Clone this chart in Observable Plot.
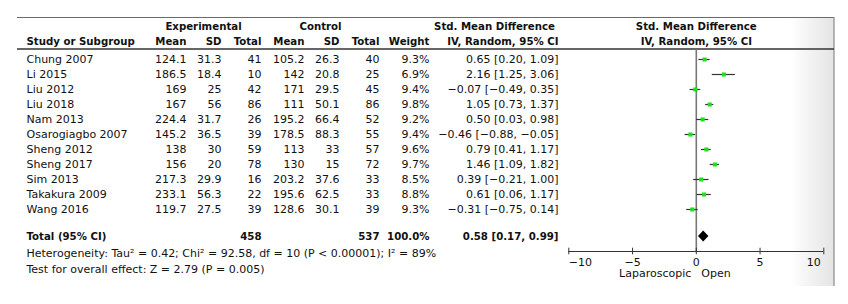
<!DOCTYPE html>
<html>
<head>
<meta charset="utf-8">
<script src="https://cdn.jsdelivr.net/npm/d3@7"></script>
<script src="https://cdn.jsdelivr.net/npm/@observablehq/plot@0.6"></script>
<style>
  html, body { margin: 0; padding: 0; background: #fff; }
  #chart svg { display: block; }
</style>
</head>
<body>
<div id="chart"></div>
<script>
// ---- data ----
const studies = ["Chung 2007","Li 2015","Liu 2012","Liu 2018","Nam 2013","Osarogiagbo 2007","Sheng 2012","Sheng 2017","Sim 2013","Takakura 2009","Wang 2016"];
const expMean = ["124.1","186.5","169","167","224.4","145.2","138","156","217.3","233.1","119.7"];
const expSD   = ["31.3","18.4","25","56","31.7","36.5","30","20","29.9","56.3","27.5"];
const expN    = [41,10,42,86,26,39,59,78,16,22,39];
const ctlMean = ["105.2","142","171","111","195.2","178.5","113","130","203.2","195.6","128.6"];
const ctlSD   = ["26.3","20.8","29.5","50.1","66.4","88.3","33","15","37.6","62.5","30.1"];
const ctlN    = [40,25,45,86,52,55,57,72,33,33,39];
const weight  = [9.3,6.9,9.4,9.8,9.2,9.4,9.6,9.7,8.5,8.8,9.3];
const smd     = [0.65,2.16,-0.07,1.05,0.50,-0.46,0.79,1.46,0.39,0.61,-0.31];
const ciLo    = [0.20,1.25,-0.49,0.73,0.03,-0.88,0.41,1.09,-0.21,0.06,-0.75];
const ciHi    = [1.09,3.06,0.35,1.37,0.98,-0.05,1.17,1.82,1.00,1.17,0.14];
const total   = {label: "Total (95% CI)", expN: 458, ctlN: 537, weight: "100.0%", smd: 0.58, lo: 0.17, hi: 0.99};
const hetText = "Heterogeneity: Tau² = 0.42; Chi² = 92.58, df = 10 (P < 0.00001); I² = 89%";
const testText = "Test for overall effect: Z = 2.79 (P = 0.005)";
const xTicks = [-10, -5, 0, 5, 10];
const xTickLabels = ["−10", "−5", "0", "5", "10"];
const favourLeft = "Laparoscopic", favourRight = "Open";

// ---- layout (row units) ----
const R = {h1: -2.2, h2: -1.2, hline: -0.67, total: 11.8, axis: 12.8, tickLab: 13.5, axTitle: 14.27, het: 12.93, test: 14.0};
const fmt = v => (v < 0 ? "−" : "") + Math.abs(v).toFixed(2);
const ciStr = (e, l, h) => `${fmt(e)} [${fmt(l)}, ${fmt(h)}]`;

const rows = studies.map((s, i) => ({
  i, study: s, em: expMean[i], es: expSD[i], en: expN[i], cm: ctlMean[i], cs: ctlSD[i], cn: ctlN[i],
  w: weight[i].toFixed(1) + "%", smd: smd[i], lo: ciLo[i], hi: ciHi[i], ci: ciStr(smd[i], ciLo[i], ciHi[i])
}));

const FONT = "'DejaVu Sans', sans-serif";
const BOLD = {fontWeight: "bold", fontSize: 10.2};
const col = (data, text, px, anchor, extra = {}) =>
  Plot.text(data, {frameAnchor: "left", dx: px, y: "i", text, textAnchor: anchor, fill: "#111", fontSize: 11, ...extra});
const lbl = (txt, yRow, px, anchor, extra = {}) =>
  Plot.text([txt], {frameAnchor: "left", dx: px, y: () => yRow, text: d => d, textAnchor: anchor, fill: "#111", fontSize: 11, ...extra});

// decorative box (frame, shadow)
const boxMark = (index, scales, values, dims) => {
  const g = d3.create("svg:g");
  const defs = g.append("defs");
  const grad = defs.append("linearGradient").attr("id", "shade").attr("x1", 0).attr("x2", 1).attr("y1", 0).attr("y2", 0);
  grad.append("stop").attr("offset", 0).attr("stop-color", "#fff");
  grad.append("stop").attr("offset", 1).attr("stop-color", "#e4e4e4");
  g.append("rect").attr("x", 790).attr("y", 17).attr("width", 44).attr("height", 269).attr("fill", "url(#shade)");
  g.append("line").attr("x1", 17).attr("x2", 834).attr("y1", 17.5).attr("y2", 17.5).attr("stroke", "#6a6a6a").attr("stroke-width", 1.2);
  g.append("line").attr("x1", 834).attr("x2", 834).attr("y1", 17).attr("y2", 286).attr("stroke", "#8a8a8a").attr("stroke-width", 1.2);
  g.append("line").attr("x1", 17).attr("x2", 834).attr("y1", 49).attr("y2", 49).attr("stroke", "#333").attr("stroke-width", 1.5);
  return g.node();
};

const totalRow = [{i: R.total}];
const diamond = [
  {x: total.lo, y1: R.total, y2: R.total},
  {x: total.smd, y1: R.total - 0.36, y2: R.total + 0.36},
  {x: total.hi, y1: R.total, y2: R.total}
];
const tickRows = xTicks.map((t, i) => ({t, label: xTickLabels[i], i}));
const last = xTicks.length - 1;

const chart = Plot.plot({
  width: 848, height: 304,
  marginTop: 0, marginRight: 0, marginBottom: 0, marginLeft: 0,
  style: {fontFamily: FONT, fontSize: "11px", background: "transparent"},
  x: {domain: [-10, 10], range: [568.3, 823.3], axis: null},
  y: {domain: [0, 10], range: [59, 209], axis: null},
  marks: [
    boxMark,
    // headers
    lbl("Experimental", R.h1, 203, "middle", BOLD),
    lbl("Control", R.h1, 320, "middle", BOLD),
    lbl("Std. Mean Difference", R.h1, 494, "middle", BOLD),
    Plot.text(["Std. Mean Difference"], {x: () => 0, y: () => R.h1, text: d => d, fill: "#111", ...BOLD}),
    lbl("Study or Subgroup", R.h2, 26, "start", BOLD),
    lbl("Mean", R.h2, 186, "end", BOLD),
    lbl("SD", R.h2, 221, "end", BOLD),
    lbl("Total", R.h2, 261, "end", BOLD),
    lbl("Mean", R.h2, 304, "end", BOLD),
    lbl("SD", R.h2, 339, "end", BOLD),
    lbl("Total", R.h2, 379, "end", BOLD),
    lbl("Weight", R.h2, 429, "end", BOLD),
    lbl("IV, Random, 95% CI", R.h2, 558, "end", BOLD),
    Plot.text(["IV, Random, 95% CI"], {x: () => 0, y: () => R.h2, text: d => d, fill: "#111", ...BOLD}),
    // study rows
    col(rows, "study", 26, "start"),
    col(rows, "em", 186, "end"),
    col(rows, "es", 221, "end"),
    col(rows, "en", 261, "end"),
    col(rows, "cm", 304, "end"),
    col(rows, "cs", 339, "end"),
    col(rows, "cn", 379, "end"),
    col(rows, "w", 429, "end"),
    col(rows, "ci", 558, "end"),
    // total row
    col(totalRow, () => total.label, 26, "start", BOLD),
    col(totalRow, () => String(total.expN), 261, "end", BOLD),
    col(totalRow, () => String(total.ctlN), 379, "end", BOLD),
    col(totalRow, () => total.weight, 429, "end", BOLD),
    col(totalRow, () => ciStr(total.smd, total.lo, total.hi), 558, "end", BOLD),
    lbl(hetText, R.het, 26, "start"),
    lbl(testText, R.test, 26, "start"),
    // forest plot
    Plot.ruleX([0], {y1: R.hline, y2: R.axis, stroke: "#777", strokeWidth: 1.6}),
    Plot.ruleY(rows, {y: "i", x1: "lo", x2: "hi", stroke: "#333", strokeWidth: 1.2}),
    Plot.dot(rows, {x: "smd", y: "i", symbol: "square", r: 2.3, fill: "#19e319", stroke: "none"}),
    Plot.areaY(diamond, {x: "x", y1: "y1", y2: "y2", fill: "#000"}),
    // axis
    Plot.ruleY([R.axis], {x1: xTicks[0], x2: xTicks[last], stroke: "#333", strokeWidth: 1}),
    Plot.ruleX(xTicks, {x: d => d, y1: R.axis - 0.22, y2: R.axis + 0.22, stroke: "#333", strokeWidth: 1}),
    Plot.text(tickRows.filter(d => d.i === 0), {x: "t", y: () => R.tickLab, text: "label", textAnchor: "start", fill: "#111", fontSize: 11}),
    Plot.text(tickRows.filter(d => d.i > 0 && d.i < last), {x: "t", y: () => R.tickLab, text: "label", textAnchor: "middle", fill: "#111", fontSize: 11}),
    Plot.text(tickRows.filter(d => d.i === last), {x: "t", y: () => R.tickLab, text: "label", textAnchor: "end", dx: -3, fill: "#111", fontSize: 11}),
    Plot.text([favourLeft], {x: () => 0, y: () => R.axTitle, text: d => d, textAnchor: "end", dx: -5, fill: "#111", fontSize: 11}),
    Plot.text([favourRight], {x: () => 0, y: () => R.axTitle, text: d => d, textAnchor: "start", dx: 5, fill: "#111", fontSize: 11})
  ]
});
document.getElementById("chart").appendChild(chart);
</script>
</body>
</html>
